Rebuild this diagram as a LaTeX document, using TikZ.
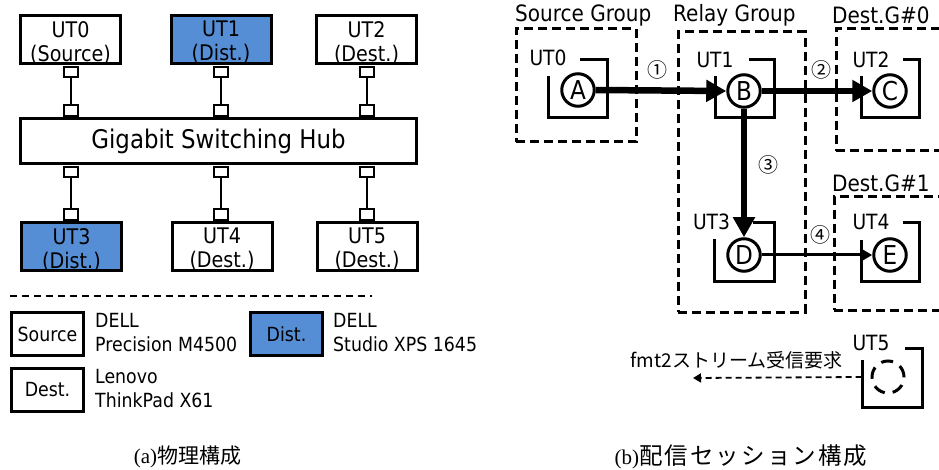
\documentclass[tikz,border=0pt]{standalone}
\usepackage{fontspec}
\setmainfont{DejaVu Sans}[FakeStretch=0.89]
\newfontfamily\jpfont{Noto Sans CJK JP}
\newfontfamily\seriffont{Liberation Serif}
\usetikzlibrary{arrows.meta}
\definecolor{distblue}{RGB}{85,142,213}
\begin{document}
\begin{tikzpicture}[x=1pt,y=-1pt,
  utbox/.style={draw, line width=3pt, minimum width=100pt, minimum height=48.5pt, inner sep=0pt},
  uttext/.style={inner sep=0pt, align=center, font=\fontsize{21.5}{24}\selectfont},
  distbox/.style={fill=distblue},
  hubbox/.style={draw, line width=3pt, minimum width=396.5pt, minimum height=45.5pt, inner sep=0pt, font=\fontsize{25.7}{27}\selectfont},
  portbox/.style={draw, line width=2.3pt, fill=white, minimum width=13.5pt, minimum height=10.5pt, inner sep=0pt},
  wire/.style={line width=2pt},
  legbox/.style={draw, line width=3pt, minimum width=72pt, minimum height=43pt, inner sep=0pt, font=\fontsize{19.5}{21}\selectfont},
  legtext/.style={anchor=west, align=left, inner sep=0pt, font=\fontsize{19.5}{24}\selectfont},
  caption/.style={inner sep=0pt, font=\fontsize{21}{23}\selectfont},
  grouplabel/.style={anchor=west, inner sep=0pt, font=\fontsize{22.5}{24}\selectfont},
  groupbox/.style={draw, line width=3pt, dash pattern=on 9pt off 5pt, inner sep=0pt},
  utlabel/.style={inner sep=0pt, font=\fontsize{21}{23}\selectfont},
  bracket/.style={line width=3pt},
  station/.style={draw, circle, line width=3pt, fill=white, minimum size=32.5pt, inner sep=0pt, font=\fontsize{26}{28}\selectfont},
  numlabel/.style={inner sep=0pt, font=\fontsize{20}{22}\selectfont\jpfont},
  bigarrow/.style={line width=6.5pt, -{Triangle[length=20pt,width=21pt]}},
  thinarrow/.style={line width=3pt, -{Triangle[length=12pt,width=13pt]}},
  reqarrow/.style={line width=1.8pt, dash pattern=on 6pt off 4pt, -{Triangle[length=8pt,width=9pt]}}
]
\useasboundingbox (0,0) rectangle (939,470);

% ---------- (a) physical configuration ----------
\node[utbox] (ut0) at (70.5,39.5) {};
\node[utbox,distbox] (ut1) at (221,39.5) {};
\node[utbox] (ut2) at (366.5,39.5) {};
\node[hubbox] (hub) at (218.5,141) {Gigabit Switching Hub};
\node[utbox,distbox] (ut3) at (71.5,246.5) {};
\node[utbox] (ut4) at (222,246.5) {};
\node[utbox] (ut5) at (367,246.5) {};
\node[uttext] (ut0t) at ([yshift=-3pt]ut0.center) {UT0\\(Source)};
\node[uttext] (ut1t) at ([yshift=-3pt]ut1.center) {UT1\\(Dist.)};
\node[uttext] (ut2t) at ([yshift=-3pt]ut2.center) {UT2\\(Dest.)};
\node[uttext] (ut3t) at ([yshift=-3pt]ut3.center) {UT3\\(Dist.)};
\node[uttext] (ut4t) at ([yshift=-3pt]ut4.center) {UT4\\(Dest.)};
\node[uttext] (ut5t) at ([yshift=-3pt]ut5.center) {UT5\\(Dest.)};

\foreach \n/\x in {0/71,1/221,2/367}{
  \node[portbox] (pa\n) at (\x,72) {};
  \node[portbox] (pb\n) at (\x,110.5) {};
  \draw[wire] (pa\n.south) -- (pb\n.north);
}
\foreach \n/\x in {3/71,4/221,5/367}{
  \node[portbox] (pc\n) at (\x,172) {};
  \node[portbox] (pd\n) at (\x,214.5) {};
  \draw[wire] (pc\n.south) -- (pd\n.north);
}

% legend
\coordinate (sepL) at (10,296);
\coordinate (sepR) at (372,296);
\draw[line width=2pt, dash pattern=on 7pt off 5pt] (sepL) -- (sepR);
\node[legbox] (lsrc) at (47.5,334) {Source};
\node[legbox] (ldst) at (47.5,389.5) {Dest.};
\node[legbox,distbox] (ldist) at (286.5,334) {Dist.};
\node[legtext] (tsrc) at (95,333) {DELL\\Precision M4500};
\node[legtext] (tdst) at (95,388.5) {Lenovo\\ThinkPad X61};
\node[legtext] (tdist) at (333,333) {DELL\\Studio XPS 1645};

\node[caption] (capa) at (187.5,457) {{\seriffont (a)}{\jpfont 物理構成}};

% ---------- (b) delivery session configuration ----------
\node[grouplabel] (lsg) at (515,15) {Source Group};
\node[grouplabel] (lrg) at (673,15) {Relay Group};
\node[grouplabel] (ld0) at (832,15) {Dest.G\#0};
\node[grouplabel] (ld1) at (832,183) {Dest.G\#1};

\node[groupbox, minimum width=120pt, minimum height=113pt] (gsrc) at (576,85.5) {};
\node[groupbox, minimum width=127pt, minimum height=280pt] (grel) at (741.5,172) {};
\node[groupbox, minimum width=124pt, minimum height=122pt] (gd0) at (898,90) {};
\node[groupbox, minimum width=126pt, minimum height=113pt] (gd1) at (897,253.5) {};

% terminal brackets
\draw[bracket] (580,60) -| (607,118) -| (548,76);
\draw[bracket] (749,60) -| (774,118) -| (715,76);
\draw[bracket] (903,60) -| (919,118) -| (861,76);
\draw[bracket] (753,223) -| (774,281) -| (714,239);
\draw[bracket] (903,223) -| (919,281) -| (861,240);
\draw[bracket] (905,348) -| (922,407) -| (862,360);

\node[utlabel] (lu0) at (548,58) {UT0};
\node[utlabel] (lu1) at (715,60) {UT1};
\node[utlabel] (lu2) at (871,60) {UT2};
\node[utlabel] (lu3) at (711.5,222) {UT3};
\node[utlabel] (lu4) at (871,222) {UT4};
\node[utlabel] (lu5) at (871,343) {UT5};

\node[station] (A) at (578,90) {A};
\node[station] (B) at (744,91) {B};
\node[station] (C) at (890,91) {C};
\node[station] (D) at (744,255) {D};
\node[station] (E) at (890,255) {E};
\node[draw, circle, line width=3pt, dash pattern=on 12pt off 8pt, minimum size=32pt, inner sep=0pt] (F) at (888,377) {};

\draw[bigarrow] (A.east) -- (B.west);
\draw[bigarrow] (B.east) -- (C.west);
\draw[bigarrow] (B.south) -- (D.north);
\draw[thinarrow] (D.east) -- (E.west);

\node[numlabel] (n1) at (657,70) {①};
\node[numlabel] (n2) at (821,70) {②};
\node[numlabel] (n3) at (768,165) {③};
\node[numlabel] (n4) at (820,235) {④};

\coordinate (reqend) at (693,378);
\draw[reqarrow] ([xshift=-9pt]F.west) -- (reqend);
\node[inner sep=0pt, font=\fontsize{19}{21}\selectfont\jpfont] (req) at (736.5,360) {fmt2ストリーム受信要求};

\node[caption] (capb) at (741,457) {{\seriffont (b)}{\fontsize{23.5}{25}\selectfont\jpfont\addfontfeature{LetterSpace=9}配信セッション構成}};
\end{tikzpicture}
\end{document}
